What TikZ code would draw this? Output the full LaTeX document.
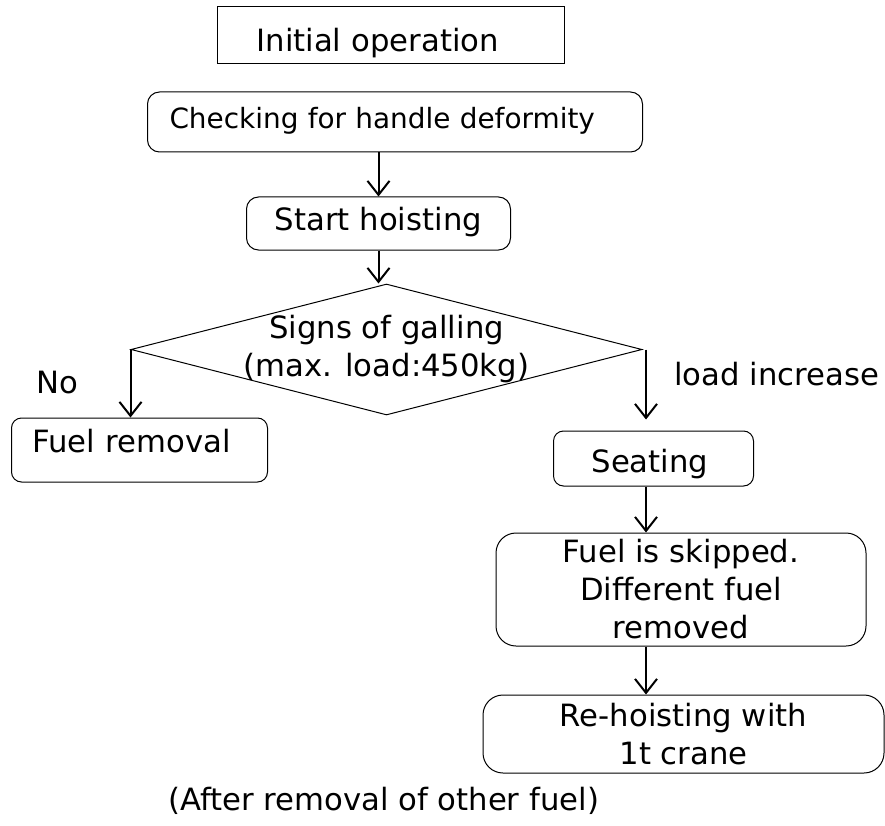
\documentclass[tikz,border=0pt]{standalone}
\usepackage{fontspec}
\setmainfont{DejaVu Sans}
\usetikzlibrary{shapes.geometric,arrows.meta}

\begin{document}
\begin{tikzpicture}[x=1pt, y=-1pt,
        every node/.style={font=\fontsize{30.7}{38}\selectfont},
        box/.style={draw, line width=1pt, inner ysep=0pt},
        rbox/.style={box, rounded corners=#1},
        rbox/.default=12pt,
        arr/.style={line width=2pt, -{Straight Barb[length=14pt,width=22pt]}}]
    \useasboundingbox (0,0) rectangle (885,826);
    \coordinate (col) at (646,0);

    \node[box, anchor=base west, align=left, inner xsep=39pt, text width=269pt,
          text height=45pt, text depth=12pt] (init) at (217,52) {Initial operation};
    \node[rbox, anchor=base west, align=left, inner xsep=22pt, text width=451pt,
          text height=37pt, text depth=23pt, font=\fontsize{27.9}{34}\selectfont]
          (check) at (147,129) {Checking for handle deformity};
    \node[rbox, anchor=base, minimum width=264pt,
          text height=34pt, text depth=19pt] (start) at (378.5,231) {Start hoisting};

    \node[draw, line width=1pt, diamond, aspect=3.9, inner sep=-12pt,
          minimum width=511pt, minimum height=131pt, align=center]
          (gall) at (386.5,349.5) {Signs of galling\\(max. load:450kg)};

    \node[rbox=10pt, anchor=base west, align=left, inner xsep=21pt, text width=214pt,
          text height=34pt, text depth=30pt] (fuel) at (11,452) {Fuel removal};
    \node[rbox=10pt, anchor=base west, align=left, inner xsep=38pt, text width=124pt,
          text height=41pt, text depth=14pt] (seat) at (553,472) {Seating};
    \node[rbox=20pt, minimum width=370pt, minimum height=113pt, inner sep=0pt,
          align=center] (skip) at (681,589.5) {Fuel is skipped.\\Different fuel\\removed};
    \node[rbox=20pt, minimum width=401pt, minimum height=78pt, inner sep=0pt,
          align=center] (rehoist) at (683.5,734) {Re-hoisting with\\1t crane};

    \node[anchor=base west, inner sep=0pt] (no) at (36,393) {No};
    \node[anchor=base west, inner sep=0pt] (inc) at (674,385) {load increase};
    \node[anchor=base west, inner sep=0pt] (after) at (168,810) {(After removal of other fuel)};

    \draw[arr] (start.north |- check.south) -- (start.north);
    \draw[arr] (start.south) -- (start.south |- gall.north);
    \draw[arr] (gall.west) -- (gall.west |- fuel.north);
    \draw[arr, shorten >=11pt] (gall.east -| col) -- (col |- seat.north);
    \draw[arr] (seat.south -| col) -- (col |- skip.north);
    \draw[arr] (skip.south -| col) -- (col |- rehoist.north);
\end{tikzpicture}
\end{document}
